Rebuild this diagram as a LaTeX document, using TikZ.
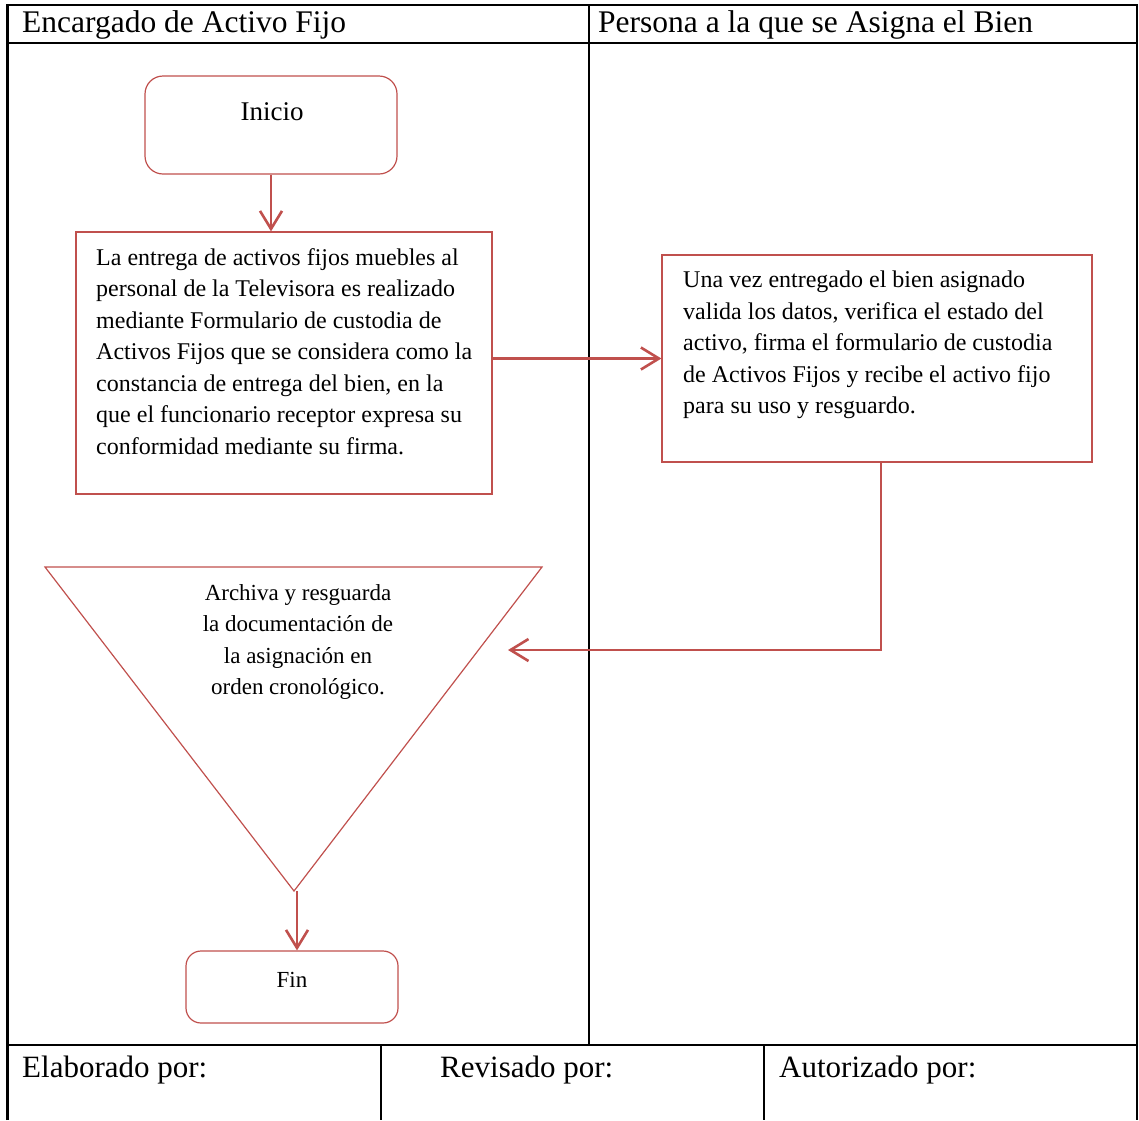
\documentclass[tikz,border=0pt]{standalone}
\usepackage{fontspec}
\setmainfont{Liberation Serif}
\usetikzlibrary{arrows.meta}
\definecolor{rojo}{RGB}{192,80,77}
\begin{document}
\begin{tikzpicture}[x=1pt,y=-1pt,
		marco/.style={line width=2.4pt},
		forma/.style={draw=rojo, line width=1.2pt, inner sep=0pt},
		redonda/.style={forma, rounded corners=18pt},
		flecha/.style={draw=rojo, line width=2.6pt, -{Straight Barb[length=18pt,width=22pt]}},
		texto/.style={inner sep=0pt, font=\fontsize{24}{31.5}\selectfont},
		titulo/.style={anchor=base west, inner sep=0pt, font=\fontsize{31.5}{36}\selectfont},
		pie/.style={anchor=base west, inner sep=0pt, font=\fontsize{31}{38}\selectfont}]
	\useasboundingbox (0,0) rectangle (1139,1120);
	% tabla
		\draw[marco] (7.5,1120)--(7.5,5)--(1137,5)--(1137,1120);
		\draw[marco] (7.5,43)--(1137,43);
		\draw[marco] (589,5)--(589,1045);
		\draw[marco] (7.5,1045)--(1137,1045);
		\draw[marco] (381,1045)--(381,1120);
		\draw[marco] (764,1045)--(764,1120);
		\node[titulo] (carril1) at (22,32) {Encargado de Activo Fijo};
		\node[titulo] (carril2) at (598,32) {Persona a la que se Asigna el Bien};
		\node[pie] (elaborado) at (22,1077) {Elaborado por:};
		\node[pie] (revisado) at (440,1077) {Revisado por:};
		\node[pie] (autorizado) at (779,1077) {Autorizado por:};
	% flujo
		\node[redonda, minimum width=252pt, minimum height=98pt] (inicio) at (271,125) {};
		\node[inner sep=0pt, font=\fontsize{27}{32}\selectfont] (iniciotxt) at (272,112) {Inicio};
		\node[forma, minimum width=416pt, minimum height=262pt] (entrega) at (284,363) {};
		\node[texto, anchor=north west, align=left] (entregatxt) at (96,248) {La entrega de activos fijos muebles al\\personal de la Televisora es realizado\\mediante Formulario de custodia de\\Activos Fijos que se considera como la\\constancia de entrega del bien, en la\\que el funcionario receptor expresa su\\conformidad mediante su firma.};
		\node[forma, minimum width=430pt, minimum height=207pt] (recibe) at (877,358.5) {};
		\node[texto, anchor=north west, align=left] (recibetxt) at (683,271) {Una vez entregado el bien asignado\\valida los datos, verifica el estado del\\activo, firma el formulario de custodia\\de Activos Fijos y recibe el activo fijo\\para su uso y resguardo.};
		\coordinate (trizq) at (45,567);
		\coordinate (trder) at (542,567);
		\coordinate (trpunta) at (294,891);
		\draw[forma] (trizq)--(trder)--(trpunta)--cycle;
		\node[texto, align=center, font=\fontsize{23}{31.5}\selectfont] (archivo) at (298,642) {Archiva y resguarda\\la documentación de\\la asignación en\\orden cronológico.};
		\coordinate (llegada) at (508,650);
		\node[redonda, rounded corners=15pt, minimum width=212pt, minimum height=72pt] (fin) at (292,987) {};
		\node[inner sep=0pt, font=\fontsize{23}{28}\selectfont] (fintxt) at (292,980) {Fin};
	% conectores
		\draw[flecha] (inicio.south)--(inicio.south |- entrega.north);
		\draw[flecha] (entrega.east |- recibe.west)--(recibe.west);
		\draw[flecha] ([xshift=4pt]recibe.south)|-(llegada);
		\draw[flecha] ([xshift=3pt]trpunta)--([xshift=3pt]trpunta |- fin.north);
\end{tikzpicture}
\end{document}
